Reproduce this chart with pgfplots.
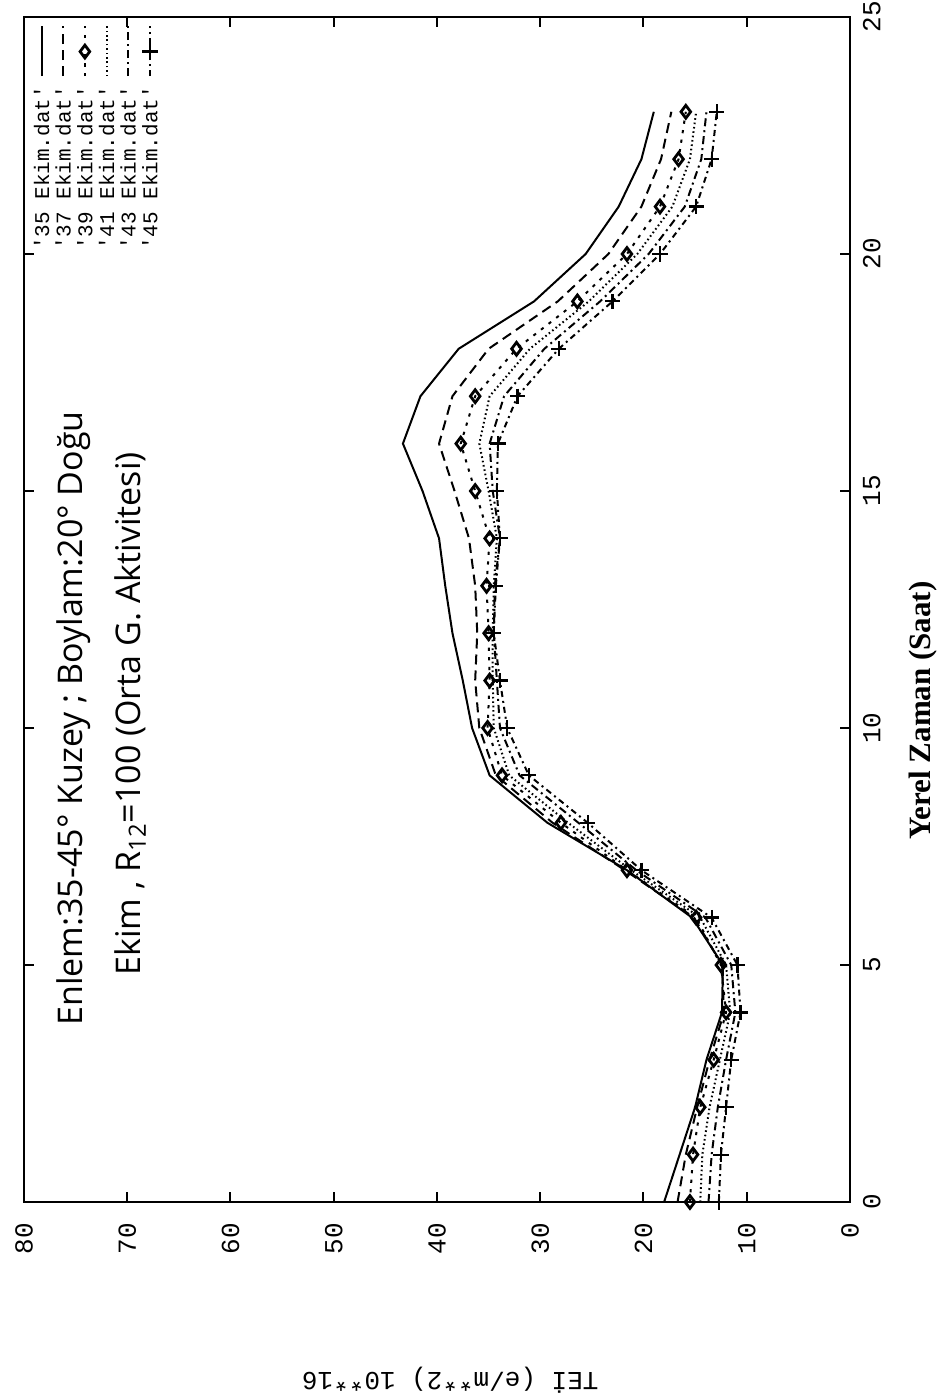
\documentclass[border=0pt]{standalone}
\usepackage{fontspec}
\usepackage{pgfplots}
\pgfplotsset{compat=1.18}
\usepackage{pgfplotstable}
\setmainfont{Liberation Serif}
\newfontfamily\monofont{Liberation Mono}
\newfontfamily\handfont{Open Sans}

\pgfplotstableread{
t s35 s37 s39 s41 s43 s45
0 18.0 16.7 15.5 14.5 13.7 12.7
1 16.5 15.9 15.2 14.3 13.4 12.5
2 15.0 14.8 14.5 13.6 12.8 12.0
3 13.9 13.6 13.2 12.6 12.0 11.5
4 12.4 12.2 12.0 11.6 11.1 10.6
5 12.3 12.4 12.5 12.0 11.5 10.9
6 15.3 15.1 14.9 14.5 14.0 13.4
7 21.6 21.8 21.6 21.2 20.7 20.2
8 29.3 28.8 28.0 27.3 26.3 25.4
9 34.9 34.3 33.7 33.0 32.0 31.1
10 36.6 35.9 35.1 34.5 33.9 33.2
11 37.5 36.3 34.9 34.6 34.2 33.9
12 38.5 36.1 35.0 34.6 34.5 34.5
13 39.2 36.3 35.2 34.5 34.4 34.3
14 39.8 36.9 34.9 34.2 33.9 33.9
15 41.4 38.3 36.3 35.0 34.6 34.2
16 43.3 39.8 37.7 35.9 34.9 34.1
17 41.6 38.5 36.3 34.9 33.5 32.2
18 37.9 35.0 32.3 31.0 29.6 28.2
19 30.6 28.3 26.4 25.3 24.2 23.0
20 25.6 23.4 21.6 20.6 19.5 18.4
21 22.4 20.2 18.4 17.2 16.0 14.9
22 20.2 18.3 16.6 15.5 14.4 13.4
23 19.0 17.3 15.9 14.9 13.9 12.9
}\tec

\tikzset{
  s35/.style={black, line width=1bp, solid},
  s37/.style={black, line width=1bp, dash pattern=on 5bp off 3bp},
  s39/.style={black, line width=1bp, dash pattern=on 1.6bp off 3.2bp, mark=diamond, mark size=3.2bp,
    mark options={solid, line width=1.4bp, fill=white}},
  s41/.style={black, line width=1bp, dash pattern=on 0.8bp off 1.4bp},
  s43/.style={black, line width=1bp, dash pattern=on 4bp off 2bp on 1bp off 2bp},
  s45/.style={black, line width=1bp, dash pattern=on 3bp off 2bp on 1bp off 2bp, mark=+, mark size=3.8bp,
    mark options={solid, line width=1.1bp}},
  legtxt/.style={rotate=90, anchor=east, inner sep=0pt, font=\monofont\fontsize{10.5bp}{10.5bp}\selectfont},
}

\begin{document}
\begin{tikzpicture}
\path[use as bounding box] (-12bp,-97.5bp) rectangle (459.5bp,601bp);
\begin{axis}[
  at={(0,0)}, anchor=south west,
  scale only axis, width=413bp, height=592.5bp,
  clip=false,
  x dir=reverse, xmin=0, xmax=80, ymin=0, ymax=25,
  xtick={0,10,...,80}, ytick={0,5,...,25},
  tick align=inside, major tick length=5bp,
  tick style={line width=1bp, black},
  xticklabel pos=lower, yticklabel pos=right,
  axis line style={line width=1.3bp},
  /pgf/number format/assume math mode=true,
  tick label style={font=\monofont\fontsize{13bp}{13bp}\selectfont},
  xticklabel style={rotate=90, anchor=east},
  yticklabel style={rotate=90, anchor=north},
  xticklabel shift=7bp, yticklabel shift=3bp,
]
\addplot[s35] table[x=s35,y=t]{\tec};
\addplot[s37] table[x=s37,y=t]{\tec};
\addplot[s39] table[x=s39,y=t]{\tec};
\addplot[s41] table[x=s41,y=t]{\tec};
\addplot[s43] table[x=s43,y=t]{\tec};
\addplot[s45] table[x=s45,y=t]{\tec};

% key (gnuplot style, rotated with the chart)
\addplot[s35, mark=none] coordinates {(78.3,23.75) (78.3,24.8)};
\addplot[s37, mark=none] coordinates {(76.2,23.75) (76.2,24.8)};
\addplot[s39, mark indices={2}] coordinates {(74.1,23.75) (74.1,24.27) (74.1,24.8)};
\addplot[s41, mark=none] coordinates {(72.0,23.75) (72.0,24.8)};
\addplot[s43, mark=none] coordinates {(69.9,23.75) (69.9,24.8)};
\addplot[s45, mark indices={2}] coordinates {(67.8,23.75) (67.8,24.27) (67.8,24.8)};
\node[legtxt] at (axis cs:78.3,23.55) {'35 Ekim.dat'};
\node[legtxt] at (axis cs:76.2,23.55) {'37 Ekim.dat'};
\node[legtxt] at (axis cs:74.1,23.55) {'39 Ekim.dat'};
\node[legtxt] at (axis cs:72.0,23.55) {'41 Ekim.dat'};
\node[legtxt] at (axis cs:69.9,23.55) {'43 Ekim.dat'};
\node[legtxt] at (axis cs:67.8,23.55) {'45 Ekim.dat'};

\node[rotate=90, font=\handfont\fontsize{17bp}{17bp}\selectfont] at (axis cs:75.2,10.2)
  {Enlem:35-45° Kuzey ; Boylam:20° Doğu};
\node[rotate=90, font=\handfont\fontsize{17bp}{17bp}\selectfont] at (axis cs:69.7,10.3)
  {Ekim , R\textsubscript{12}=100 (Orta G. Aktivitesi)};
\node[rotate=90, font=\bfseries\fontsize{15.5bp}{15.5bp}\selectfont] at (axis description cs:1.0884,0.415)
  {Yerel Zaman (Saat)};
\node[rotate=180, font=\monofont\fontsize{13bp}{13bp}\selectfont] at (axis description cs:0.516,-0.15)
  {TEİ (e/m**2) 10**16};
\end{axis}
\end{tikzpicture}
\end{document}
